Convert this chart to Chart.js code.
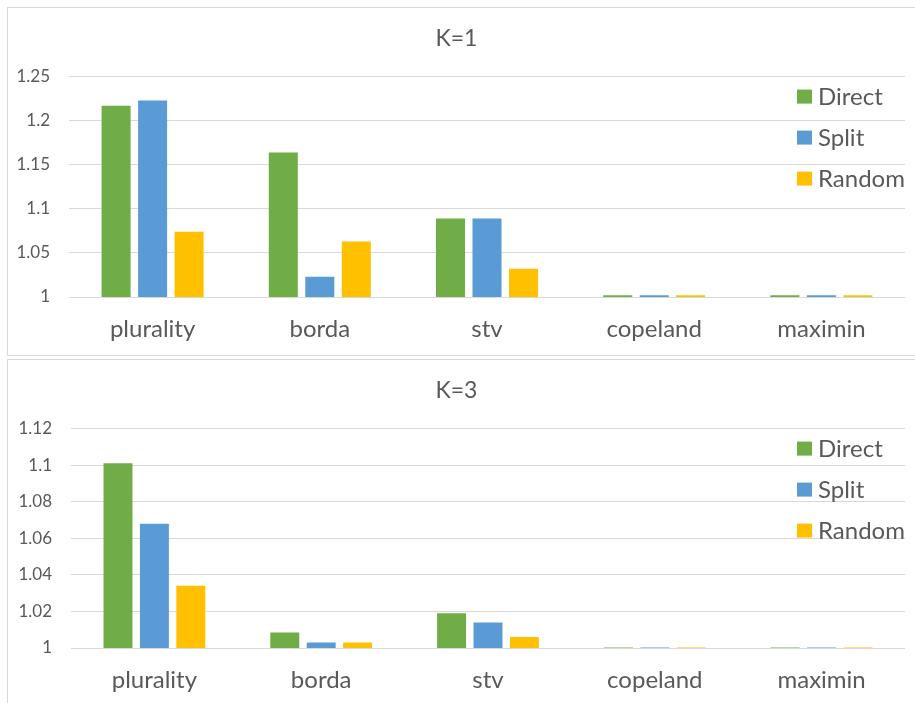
<!DOCTYPE html>
<html>
<head>
<meta charset="utf-8">
<script src="https://cdn.jsdelivr.net/npm/chart.js@4/dist/chart.umd.min.js"></script>
<style>
  html, body { margin: 0; padding: 0; background: #ffffff; width: 915px; height: 703px; overflow: hidden; }
  .box { position: absolute; left: 7px; width: 914px; height: 349px; border: 1px solid #d9d9d9; box-sizing: border-box; background: #fff; }
  .box canvas { display: block; }
</style>
</head>
<body>
<div class="box" style="top:7px"><canvas id="k1" width="912" height="347"></canvas></div>
<div class="box" style="top:359px"><canvas id="k3" width="912" height="347"></canvas></div>
<script>
// Voting rules on the category axis
const categories = ['plurality', 'borda', 'stv', 'copeland', 'maximin'];
const seriesNames = ['Direct', 'Split', 'Random'];
const seriesColors = ['#70ad47', '#5b9bd5', '#ffc000'];

// K=1 results
const k1Direct = [1.217, 1.164, 1.089, 1.002, 1.002];
const k1Split  = [1.223, 1.023, 1.089, 1.002, 1.002];
const k1Random = [1.074, 1.063, 1.032, 1.002, 1.002];
const k1TickValues = [1, 1.05, 1.1, 1.15, 1.2, 1.25];
const k1TickLabels = ['1', '1.05', '1.1', '1.15', '1.2', '1.25'];

// K=3 results
const k3Direct = [1.101, 1.0085, 1.019, 1.0003, 1.0003];
const k3Split  = [1.068, 1.003, 1.014, 1.0003, 1.0003];
const k3Random = [1.034, 1.003, 1.006, 1.0003, 1.0003];
const k3TickValues = [1, 1.02, 1.04, 1.06, 1.08, 1.1, 1.12];
const k3TickLabels = ['1', '1.02', '1.04', '1.06', '1.08', '1.1', '1.12'];

const FONT = 'Lato, "Liberation Sans", sans-serif';
const TEXT = '#595959';
const GRID = '#d9d9d9';

// Legend drawn inside the plot area, to the upper right
const insideLegend = {
  id: 'insideLegend',
  afterDraw(chart) {
    const ctx = chart.ctx;
    const area = chart.chartArea;
    const x = area.right - 108;
    ctx.save();
    ctx.font = '24px ' + FONT;
    ctx.textBaseline = 'middle';
    ctx.textAlign = 'left';
    chart.data.datasets.forEach((ds, i) => {
      const cy = area.top + 20 + i * 41;
      ctx.fillStyle = ds.backgroundColor;
      ctx.fillRect(x, cy - 7, 15, 14);
      ctx.fillStyle = TEXT;
      ctx.fillText(ds.label, x + 21, cy + 1);
    });
    ctx.restore();
  }
};

function makeChart(id, title, series, tickValues, tickLabels, yWidth, xHeight) {
  return new Chart(document.getElementById(id), {
    type: 'bar',
    data: {
      labels: categories,
      datasets: series.map((vals, i) => ({
        label: seriesNames[i],
        data: vals,
        backgroundColor: seriesColors[i],
        borderWidth: 0,
        categoryPercentage: 0.655,
        barPercentage: 0.795
      }))
    },
    options: {
      responsive: false,
      animation: false,
      devicePixelRatio: 1,
      layout: { padding: { left: 0, right: 15, top: 0, bottom: 0 } },
      plugins: {
        legend: { display: false },
        tooltip: { enabled: false },
        title: {
          display: true,
          text: title,
          color: TEXT,
          font: { family: FONT, size: 23, weight: 'normal' },
          padding: { top: 17, bottom: 24 }
        }
      },
      scales: {
        x: {
          grid: { display: false, drawTicks: false },
          border: { display: false },
          ticks: { color: TEXT, font: { family: FONT, size: 24 }, padding: 18 },
          afterFit(scale) { scale.height = xHeight; }
        },
        y: {
          min: tickValues[0],
          max: tickValues[tickValues.length - 1],
          afterBuildTicks(scale) { scale.ticks = tickValues.map(v => ({ value: v })); },
          grid: { color: GRID, lineWidth: 1, drawTicks: false },
          border: { display: false },
          ticks: {
            color: TEXT,
            font: { family: FONT, size: 17 },
            padding: 19,
            callback: (v, i) => tickLabels[i]
          },
          afterFit(scale) { scale.width = yWidth; }
        }
      }
    },
    plugins: [insideLegend]
  });
}

makeChart('k1', 'K=1', [k1Direct, k1Split, k1Random], k1TickValues, k1TickLabels, 61, 58);
makeChart('k3', 'K=3', [k3Direct, k3Split, k3Random], k3TickValues, k3TickLabels, 63, 59);
</script>
</body>
</html>
